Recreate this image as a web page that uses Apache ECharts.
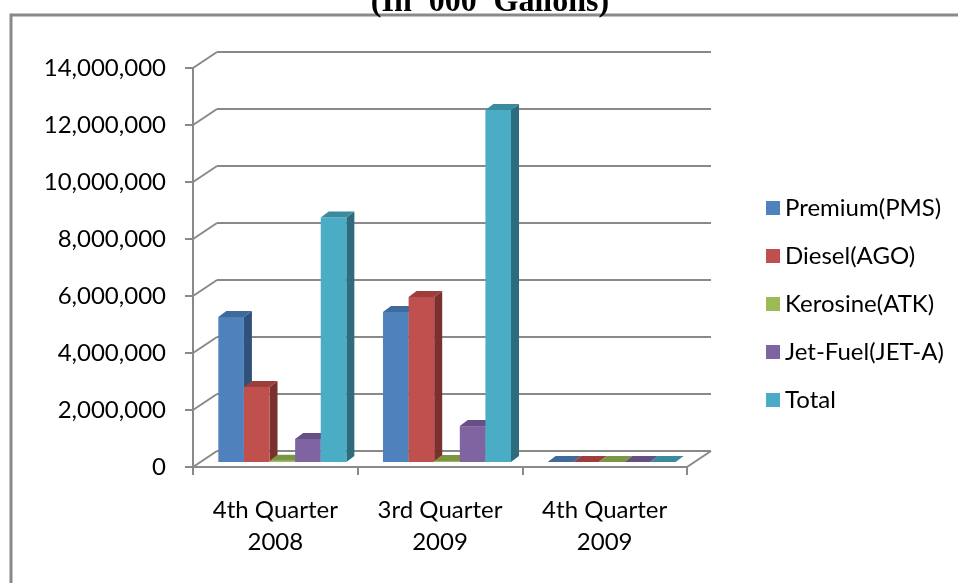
<!DOCTYPE html>
<html>
<head>
<meta charset="utf-8">
<script src="https://cdn.jsdelivr.net/npm/echarts@6/dist/echarts.min.js"></script>
<style>
  html, body { margin: 0; padding: 0; background: #fff; }
  #chart { width: 958px; height: 583px; }
</style>
</head>
<body>
<div id="chart"></div>
<script>
const categories = ['4th Quarter\n2008', '3rd Quarter\n2009', '4th Quarter\n2009'];
const seriesNames = ['Premium(PMS)', 'Diesel(AGO)', 'Kerosine(ATK)', 'Jet-Fuel(JET-A)', 'Total'];
const premium = [5090000, 5260000, 0];
const diesel = [2630000, 5790000, 0];
const kerosine = [45000, 38000, 0];
const jetFuel = [810000, 1260000, 0];
const total = [8575000, 12348000, 0];
const yTicks = [0, 2000000, 4000000, 6000000, 8000000, 10000000, 12000000, 14000000];

const frontColors = ['#4F81BD', '#C0504D', '#9BBB59', '#8064A2', '#4BACC6'];
const topColors = ['#3E6A9C', '#9C3F3C', '#7A9645', '#654F84', '#3A8B9F'];
const sideColors = ['#30527A', '#7A302E', '#5F7536', '#4E3D66', '#2D6C7D'];

const allValues = [premium, diesel, kerosine, jetFuel, total];

// depth of the floor / back wall and of each bar
const DX = 24, DY = -16;
const BAR_SHIFT_X = 7, BAR_SHIFT_Y = -5;
const BAR_DX = 8, BAR_DY = -6;
const GRID_COLOR = '#898989';

const chart = echarts.init(document.getElementById('chart'));

const barSeries = allValues.map((vals, si) => ({
  name: seriesNames[si],
  type: 'custom',
  xAxisIndex: 0,
  yAxisIndex: 0,
  itemStyle: { color: frontColors[si] },
  encode: { x: 0, y: 1 },
  data: vals.map((v, ci) => [ci, v]),
  z: 5 + si,
  renderItem: function (params, api) {
    const ci = api.value(0);
    const top = api.coord([ci, api.value(1)]);
    const base = api.coord([ci, 0]);
    const band = api.size([1, 0])[0];
    const w = band * 0.1555;
    const x0 = top[0] - 2.5 * w + si * w + BAR_SHIFT_X;
    const yT = top[1] + BAR_SHIFT_Y;
    const yB = base[1] + BAR_SHIFT_Y;
    return {
      type: 'group',
      children: [
        {
          type: 'polygon',
          shape: { points: [[x0 + w, yT], [x0 + w + BAR_DX, yT + BAR_DY], [x0 + w + BAR_DX, yB + BAR_DY], [x0 + w, yB]] },
          style: { fill: sideColors[si] }
        },
        {
          type: 'rect',
          shape: { x: x0, y: yT, width: w, height: yB - yT },
          style: { fill: frontColors[si] }
        },
        {
          type: 'polygon',
          shape: { points: [[x0, yT], [x0 + w, yT], [x0 + w + BAR_DX, yT + BAR_DY], [x0 + BAR_DX, yT + BAR_DY]] },
          style: { fill: topColors[si] }
        }
      ]
    };
  }
}));

// diagonal edges joining the front axis to the back wall
const frameSeries = {
  type: 'custom',
  xAxisIndex: 0,
  yAxisIndex: 0,
  silent: true,
  z: 1,
  data: yTicks.map(v => [0, v, 0]).concat([[0, 0, 1]]),
  encode: { x: 0, y: 1 },
  renderItem: function (params, api) {
    const cs = params.coordSys;
    const y = api.coord([0, api.value(1)])[1];
    const x = api.value(2) ? cs.x + cs.width : cs.x;
    return {
      type: 'line',
      shape: { x1: x, y1: y, x2: x + DX, y2: y + DY },
      style: { stroke: GRID_COLOR, lineWidth: 2 }
    };
  }
};

const option = {
  animation: false,
  textStyle: { fontFamily: 'Lato' },
  graphic: [
    {
      type: 'rect',
      shape: { x: 11, y: 15, width: 1000, height: 1000 },
      style: { fill: 'none', stroke: GRID_COLOR, lineWidth: 3 },
      silent: true
    },
    {
      type: 'text',
      x: 490,
      y: 19,
      style: {
        text: "(In '000' Gallons)",
        font: 'bold 32px "Liberation Serif"',
        fill: '#000',
        align: 'center',
        verticalAlign: 'bottom'
      }
    }
  ],
  legend: {
    orient: 'vertical',
    left: 761,
    top: 191,
    icon: 'rect',
    itemWidth: 14,
    itemHeight: 14,
    itemGap: 24,
    data: seriesNames,
    textStyle: { fontFamily: 'Lato', fontSize: 24, color: '#000', lineHeight: 24 }
  },
  grid: [
    { left: 193, top: 68, width: 494, height: 399 },
    { left: 193 + DX, top: 68 + DY, width: 494, height: 399 }
  ],
  xAxis: [
    {
      type: 'category',
      gridIndex: 0,
      data: categories,
      axisLine: { lineStyle: { color: GRID_COLOR, width: 2 } },
      axisTick: { show: true, length: 8, lineStyle: { color: GRID_COLOR, width: 2 } },
      axisLabel: { color: '#000', fontSize: 24, fontFamily: 'Lato', lineHeight: 32, margin: 27 }
    },
    {
      type: 'category',
      gridIndex: 1,
      data: categories,
      show: false
    }
  ],
  yAxis: [
    {
      type: 'value',
      gridIndex: 0,
      min: 0,
      max: 14000000,
      interval: 2000000,
      axisLine: { show: true, lineStyle: { color: GRID_COLOR, width: 2 } },
      axisTick: { show: true, length: 8, lineStyle: { color: GRID_COLOR, width: 2 } },
      splitLine: { show: false },
      axisLabel: {
        color: '#000',
        fontSize: 24,
        fontFamily: 'Lato',
        margin: 27,
        formatter: v => v.toLocaleString('en-US')
      }
    },
    {
      type: 'value',
      gridIndex: 1,
      min: 0,
      max: 14000000,
      interval: 2000000,
      axisLine: { show: false },
      axisTick: { show: false },
      axisLabel: { show: false },
      splitLine: { show: true, lineStyle: { color: GRID_COLOR, width: 2 } }
    }
  ],
  series: [frameSeries].concat(barSeries)
};

chart.setOption(option);
</script>
</body>
</html>
